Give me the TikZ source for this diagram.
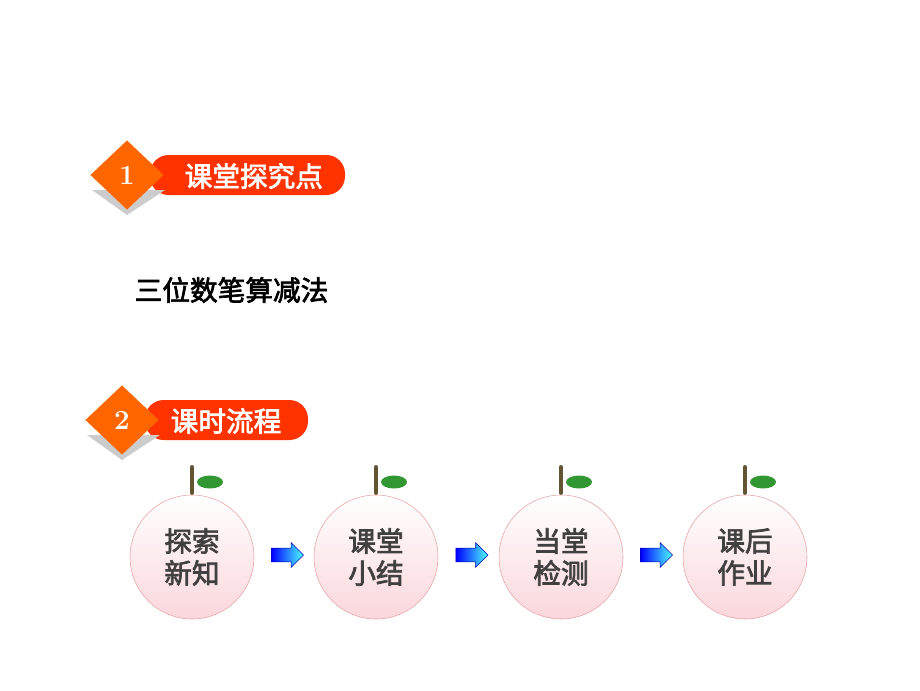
\documentclass[tikz,border=0pt]{standalone}
\usepackage{fontspec}
\newfontfamily\cjk{Noto Sans CJK SC}[AutoFakeBold=2.5]
\usetikzlibrary{shapes.geometric, shapes.arrows, positioning, calc}
\definecolor{orangeA}{RGB}{255,102,0}
\definecolor{redA}{RGB}{255,51,0}
\definecolor{peachA}{RGB}{250,215,220}
\definecolor{rimA}{RGB}{230,160,160}
\definecolor{stemA}{RGB}{100,85,50}
\definecolor{leafA}{RGB}{50,150,50}
\definecolor{textA}{RGB}{64,64,64}
\tikzset{
  tag/.style={diamond, fill=orangeA, minimum width=55pt, minimum height=52pt,
    inner sep=0pt, text=white, font=\bfseries\huge},
  banner/.style={fill=redA, rounded corners=14pt},
  fruit/.style={circle, draw=rimA, top color=white, bottom color=peachA,
    minimum size=93pt, inner sep=0pt, text=textA, font=\cjk\bfseries\huge,
    align=center, execute at begin node=\setlength{\baselineskip}{24pt}},
  pointer/.style={single arrow, draw=blue!70!black, left color=blue, right color=cyan!70,
    minimum height=24pt, inner xsep=0pt, inner ysep=5pt, single arrow head extend=4pt}
}
\begin{document}
\begin{tikzpicture}[x=0.75pt, y=-0.75pt]
\useasboundingbox (0,0) rectangle (920,690);
% first heading
\fill[banner] (150,155) rectangle (345,195);
\fill[gray!40] (92,190) -- (127,215) -- (165,190) -- cycle;
\node[tag] (one) at (127,175) {1};
\node[font=\cjk\bfseries\huge, text=white, anchor=west] (topic) at (180,176) {课堂探究点};
\node[font=\cjk\bfseries\huge, anchor=west] (title) at (130,290) {三位数笔算减法};
% second heading
\fill[banner] (145,400) rectangle (308,440);
\fill[gray!40] (87,435) -- (122,460) -- (160,435) -- cycle;
\node[tag] (two) at (122,420) {2};
\node[font=\cjk\bfseries\huge, text=white, anchor=west] (flow) at (166,421) {课时流程};
% the four steps
\foreach \x/\txt/\nm in {192/探索\\新知/a, 376/课堂\\小结/b, 561/当堂\\检测/c, 745/课后\\作业/d}{
  \draw[stemA, line width=3pt, line cap=round] (\x,467) -- (\x,493);
  \fill[leafA] (\x+18,482) ellipse (13 and 6.5);
  \node[fruit] (\nm) at (\x,557) {\txt};
}
\node[pointer] (ab) at ($(a)!0.5!(b)+(0,-2)$) {};
\node[pointer] (bc) at ($(b)!0.5!(c)+(0,-2)$) {};
\node[pointer] (cd) at ($(c)!0.5!(d)+(0,-2)$) {};
\end{tikzpicture}
\end{document}
